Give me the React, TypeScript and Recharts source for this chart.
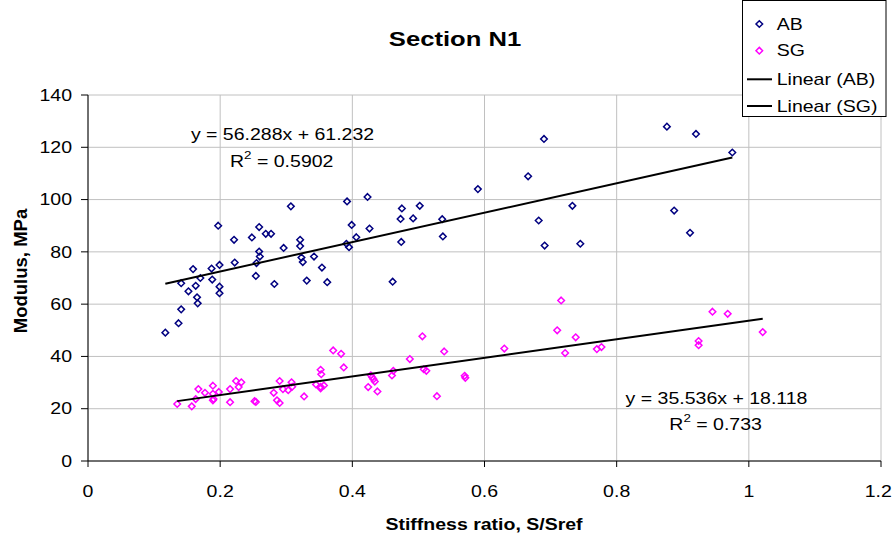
import React from 'react';
import { ScatterChart, Scatter, XAxis, YAxis, CartesianGrid, Customized } from 'recharts';

const FONT = '"Liberation Sans", Arial, sans-serif';
const SX = 1.22;

const xTicks = [0, 0.2, 0.4, 0.6, 0.8, 1, 1.2];
const yTicks = [0, 20, 40, 60, 80, 100, 120, 140];

const abStiffness = [0.117, 0.137, 0.141, 0.166, 0.165, 0.152, 0.163, 0.199, 0.199, 0.141, 0.188, 0.170, 0.282, 0.331, 0.362, 0.461, 0.159, 0.187, 0.254, 0.354, 0.199, 0.222, 0.255, 0.260, 0.259, 0.323, 0.325, 0.342, 0.296, 0.321, 0.321, 0.221, 0.248, 0.269, 0.277, 0.259, 0.197, 0.307, 0.392, 0.399, 0.406, 0.391, 0.395, 0.423, 0.426, 0.502, 0.475, 0.473, 0.492, 0.474, 0.536, 0.537, 0.590, 0.666, 0.690, 0.682, 0.691, 0.733, 0.745, 0.876, 0.920, 0.975, 0.887, 0.911];
const abModulus = [49.1, 52.7, 58.0, 60.3, 62.6, 64.9, 67.0, 64.2, 66.7, 68.0, 69.4, 70.0, 67.7, 69.0, 68.4, 68.6, 73.4, 73.6, 70.8, 74.0, 75.0, 75.9, 75.7, 78.2, 80.1, 77.8, 76.1, 78.2, 81.5, 82.2, 84.6, 84.6, 85.5, 86.9, 86.9, 89.5, 90.0, 97.4, 99.3, 90.3, 85.6, 83.1, 81.8, 101.0, 88.9, 97.6, 96.6, 92.6, 92.8, 83.8, 92.5, 85.9, 104.0, 108.9, 123.2, 92.0, 82.4, 97.6, 83.1, 127.9, 125.1, 118.0, 95.8, 87.3];

const sgStiffness = [0.135, 0.157, 0.163, 0.167, 0.177, 0.189, 0.189, 0.198, 0.190, 0.189, 0.215, 0.224, 0.232, 0.228, 0.215, 0.252, 0.254, 0.290, 0.308, 0.295, 0.303, 0.309, 0.281, 0.286, 0.290, 0.327, 0.345, 0.352, 0.357, 0.352, 0.352, 0.353, 0.371, 0.383, 0.387, 0.424, 0.428, 0.430, 0.432, 0.434, 0.438, 0.460, 0.462, 0.487, 0.506, 0.508, 0.512, 0.528, 0.539, 0.570, 0.571, 0.630, 0.716, 0.710, 0.738, 0.722, 0.770, 0.777, 0.945, 0.968, 0.924, 0.924, 1.021];
const sgModulus = [21.8, 20.9, 23.7, 27.5, 26.1, 28.8, 25.7, 26.4, 23.7, 23.2, 27.5, 30.6, 30.1, 28.3, 22.5, 22.9, 22.6, 30.6, 30.1, 27.5, 27.1, 28.4, 26.1, 23.2, 22.2, 24.7, 29.3, 28.4, 28.9, 27.8, 34.9, 33.2, 42.3, 41.0, 35.8, 28.3, 32.8, 32.0, 31.3, 30.4, 26.6, 32.7, 34.5, 39.0, 47.7, 35.1, 34.5, 24.8, 41.9, 32.6, 31.8, 43.0, 61.4, 50.0, 47.3, 41.3, 42.8, 43.6, 57.1, 56.3, 45.9, 44.3, 49.3];

const abTrendX = [0.117, 0.975];
const abTrendY = [67.8, 116.1];
const sgTrendX = [0.135, 1.021];
const sgTrendY = [22.9, 54.4];

const AB_COLOR = '#000080';
const SG_COLOR = '#ff00ff';

const zip = (xs: number[], ys: number[]) => xs.map((x, i) => ({ x, y: ys[i] }));
const abData = zip(abStiffness, abModulus);
const sgData = zip(sgStiffness, sgModulus);
const abTrend = zip(abTrendX, abTrendY);
const sgTrend = zip(sgTrendX, sgTrendY);

const diamondPts = (cx: number, cy: number, r: number) =>
  `${cx},${cy - r} ${cx + r},${cy} ${cx},${cy + r} ${cx - r},${cy}`;

const makeDiamond = (color: string) => (props: any) => {
  const { cx, cy } = props;
  if (cx == null || cy == null) return <g />;
  return <polygon points={diamondPts(cx, cy, 3.3)} fill="none" stroke={color} strokeWidth={1.5} />;
};

const SText = ({ x, y, anchor = 'middle', size = 16, weight = 'normal', children }: any) => (
  <text
    transform={`translate(${x},${y}) scale(${SX},1)`}
    textAnchor={anchor}
    fontSize={size}
    fontWeight={weight}
    fontFamily={FONT}
    fill="#000"
  >
    {children}
  </text>
);

const XTick = (props: any) => {
  const { x, y, payload } = props;
  const label = String(payload.value);
  const halfW = label.length * 4.6;
  const cx = Math.min(x, 892 - halfW);
  return <SText x={cx} y={y + 28}>{label}</SText>;
};

const YTick = (props: any) => {
  const { x, y, payload } = props;
  return <SText x={x} y={y + 5.7} anchor="end">{String(payload.value)}</SText>;
};

const Overlay = () => (
  <g>
    <SText x={455} y={46} size={21} weight="bold">Section N1</SText>
    <SText x={484} y={530} size={16} weight="bold">Stiffness ratio, S/Sref</SText>
    <text
      transform="translate(26.5,271) rotate(-90)"
      textAnchor="middle"
      fontSize={18.5}
      fontWeight="bold"
      fontFamily={FONT}
      fill="#000"
    >
      Modulus, MPa
    </text>
    <SText x={282.5} y={140}>y = 56.288x + 61.232</SText>
    <text transform={`translate(230,166.5) scale(${SX},1)`} fontSize={16} fontFamily={FONT} fill="#000">
      R<tspan fontSize={11} dy={-8}>2</tspan><tspan dy={8}> = 0.5902</tspan>
    </text>
    <SText x={716.5} y={403.5}>y = 35.536x + 18.118</SText>
    <text transform={`translate(669.3,430) scale(${SX},1)`} fontSize={16} fontFamily={FONT} fill="#000">
      R<tspan fontSize={11} dy={-8}>2</tspan><tspan dy={8}> = 0.733</tspan>
    </text>
    <rect x={742.5} y={0.5} width={143.5} height={116} fill="#fff" stroke="#000" strokeWidth={1} />
    <polygon points={diamondPts(759.3, 24, 3.3)} fill="none" stroke={AB_COLOR} strokeWidth={1.5} />
    <SText x={776.7} y={29.7} anchor="start">AB</SText>
    <polygon points={diamondPts(759.3, 50.7, 3.3)} fill="none" stroke={SG_COLOR} strokeWidth={1.5} />
    <SText x={776.7} y={56.4} anchor="start">SG</SText>
    <line x1={747} x2={772} y1={79.3} y2={79.3} stroke="#000" strokeWidth={2} />
    <SText x={776.7} y={85} anchor="start">Linear (AB)</SText>
    <line x1={747} x2={772} y1={106} y2={106} stroke="#000" strokeWidth={2} />
    <SText x={776.7} y={111.7} anchor="start">Linear (SG)</SText>
  </g>
);

export default function App() {
  return (
    <div style={{ position: 'absolute', left: 0, top: 0, width: 893, height: 536, background: '#fff' }}>
      <ScatterChart width={893} height={536} margin={{ top: 95, right: 12, bottom: 35, left: 0 }}>
        <CartesianGrid stroke="#c0c0c0" strokeWidth={1} />
        <XAxis
          type="number"
          dataKey="x"
          domain={[0, 1.2]}
          ticks={xTicks}
          height={40}
          stroke="#000"
          tickSize={6}
          tickMargin={2}
          tick={<XTick />}
          interval={0}
        />
        <YAxis
          type="number"
          dataKey="y"
          domain={[0, 140]}
          ticks={yTicks}
          width={88}
          stroke="#000"
          tickSize={7}
          tickMargin={9}
          tick={<YTick />}
          interval={0}
        />
        <Scatter data={abData} shape={makeDiamond(AB_COLOR)} isAnimationActive={false} />
        <Scatter data={sgData} shape={makeDiamond(SG_COLOR)} isAnimationActive={false} />
        <Scatter
          data={abTrend}
          line={{ stroke: '#000', strokeWidth: 2 }}
          shape={() => <g />}
          isAnimationActive={false}
        />
        <Scatter
          data={sgTrend}
          line={{ stroke: '#000', strokeWidth: 2 }}
          shape={() => <g />}
          isAnimationActive={false}
        />
        <Customized component={<Overlay />} />
      </ScatterChart>
    </div>
  );
}
